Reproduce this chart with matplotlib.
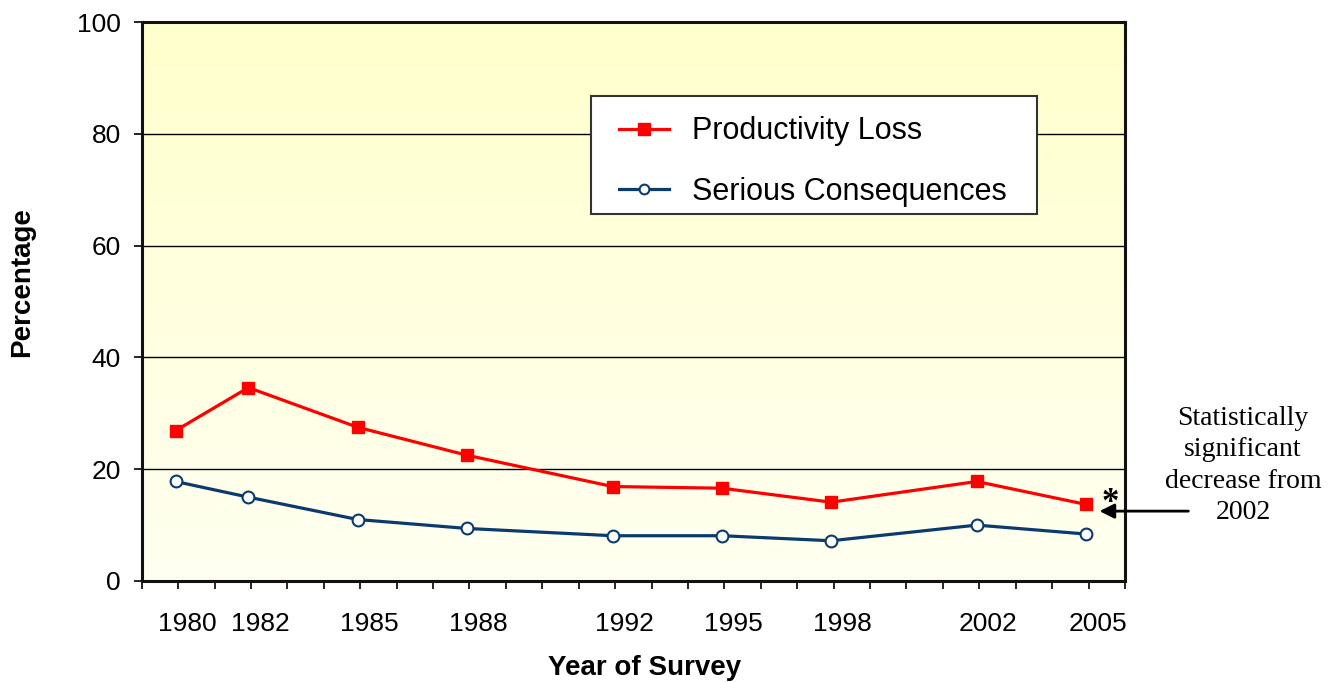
import numpy as np
import matplotlib
matplotlib.use('Agg')
import matplotlib.pyplot as plt
from matplotlib.patches import Rectangle
from matplotlib.lines import Line2D
from matplotlib.transforms import ScaledTranslation

# ---- data ----
years = [1980, 1982, 1985, 1988, 1992, 1995, 1998, 2002, 2005]
productivity_loss = [26.9, 34.6, 27.5, 22.5, 16.9, 16.6, 14.1, 17.8, 13.7]
serious_consequences = [17.8, 15.0, 11.0, 9.4, 8.1, 8.1, 7.2, 10.0, 8.4]
series_names = ['Productivity Loss', 'Serious Consequences']
y_ticks = [0, 20, 40, 60, 80, 100]
minor_years = list(range(1979, 2007))
x_label = 'Year of Survey'
y_label = 'Percentage'
note_text = 'Statistically\nsignificant\ndecrease from\n2002'

SANS = ['Liberation Sans', 'DejaVu Sans']
SERIF = ['Liberation Serif', 'DejaVu Serif']
plt.rcParams['font.family'] = SANS

RED = '#FF0000'
NAVY = '#0B3B6E'

fig = plt.figure(figsize=(13.37, 6.82), dpi=100)
fig.patch.set_facecolor('white')
ax = fig.add_axes([141.7 / 1337, 1 - 581 / 682, (1125 - 141.7) / 1337, (581 - 22) / 682])

# gradient background
top = np.array([1.0, 1.0, 0.80])
bot = np.array([1.0, 1.0, 0.945])
t = np.linspace(0, 1, 256)[:, None]
grad = (top * (1 - t) + bot * t)[:, None, :]
ax.imshow(grad, extent=[0, 1, 0, 1], transform=ax.transAxes, aspect='auto', zorder=0)

ax.set_xlim(1979.07, 2006.03)
ax.set_ylim(0, 100)

# grid
for yv in y_ticks[1:-1]:
    ax.axhline(yv, color='black', lw=1.0, zorder=1)

# lines
ax.plot(years, productivity_loss, color=RED, lw=2.3, marker='s', ms=8.5,
        mfc=RED, mec=RED, zorder=4)
ax.plot(years, serious_consequences, color=NAVY, lw=2.3, marker='o', ms=8.5,
        mfc='white', mec=NAVY, mew=1.5, zorder=4)

# ticks
tick_off = 0.07
ax.set_xticks([y + tick_off for y in years])
ax.set_xticklabels([str(y) for y in years])
ax.set_xticks([y + tick_off for y in minor_years if y + tick_off >= 1979.07], minor=True)
ax.tick_params(axis='x', which='both', direction='out', length=6, width=1.2, color='black')
ax.tick_params(axis='x', which='major', labelsize=19, pad=16)
ax.set_yticks(y_ticks)
ax.set_yticklabels([str(v) for v in y_ticks])
ax.tick_params(axis='y', direction='out', length=6, width=1.2, labelsize=19, pad=9)
for lab in ax.get_xticklabels():
    lab.set_transform(lab.get_transform() + ScaledTranslation(9 / 100, 0, fig.dpi_scale_trans))

for s in ax.spines.values():
    s.set_linewidth(2.2)
    s.set_color('#111111')
    s.set_zorder(5)

ax.set_xlabel(x_label, fontsize=20, fontweight='bold')
ax.xaxis.set_label_coords((645 - 141.7) / 983.3, (581 - 655) / 559)
ax.set_ylabel(y_label, fontsize=20, fontweight='bold')
ax.yaxis.set_label_coords((35 - 141.7) / 983.3, (581 - 282) / 559)

# legend
ax.add_patch(Rectangle((591, 682 - 214), 1037 - 591, 214 - 96, transform=None,
                       fc='white', ec='#333333', lw=1.5, zorder=6))
handles = [Line2D([], [], color=RED, lw=2.3, marker='s', ms=8.5, mfc=RED, mec=RED),
           Line2D([], [], color=NAVY, lw=2.3, marker='o', ms=7, mfc='white', mec=NAVY, mew=1.5)]
leg = ax.legend(handles, series_names, loc='center left',
                bbox_to_anchor=((619 - 141.7) / 983.3, (581 - 161.5) / 559),
                frameon=False, fontsize=22, handlelength=1.65, handletextpad=0.75,
                labelspacing=1.0, borderpad=0, borderaxespad=0)
leg.set_zorder(7)

# annotation
ax.annotate('', xy=(2005.37, 12.5), xytext=(2007.81, 12.5),
            arrowprops=dict(arrowstyle='-|>', color='black', lw=2, mutation_scale=22,
                            shrinkA=0, shrinkB=0),
            annotation_clip=False, zorder=8)
ax.text(2005.67, 12.3, '*', family=SERIF, fontweight='bold', fontsize=25,
        ha='center', va='baseline', clip_on=False, zorder=8)
fig.text(1243 / 1337, 1 - 465.5 / 682, note_text, family=SERIF, fontsize=20,
         ha='center', va='center', linespacing=1.34)

fig.savefig('out.png', dpi=100)
